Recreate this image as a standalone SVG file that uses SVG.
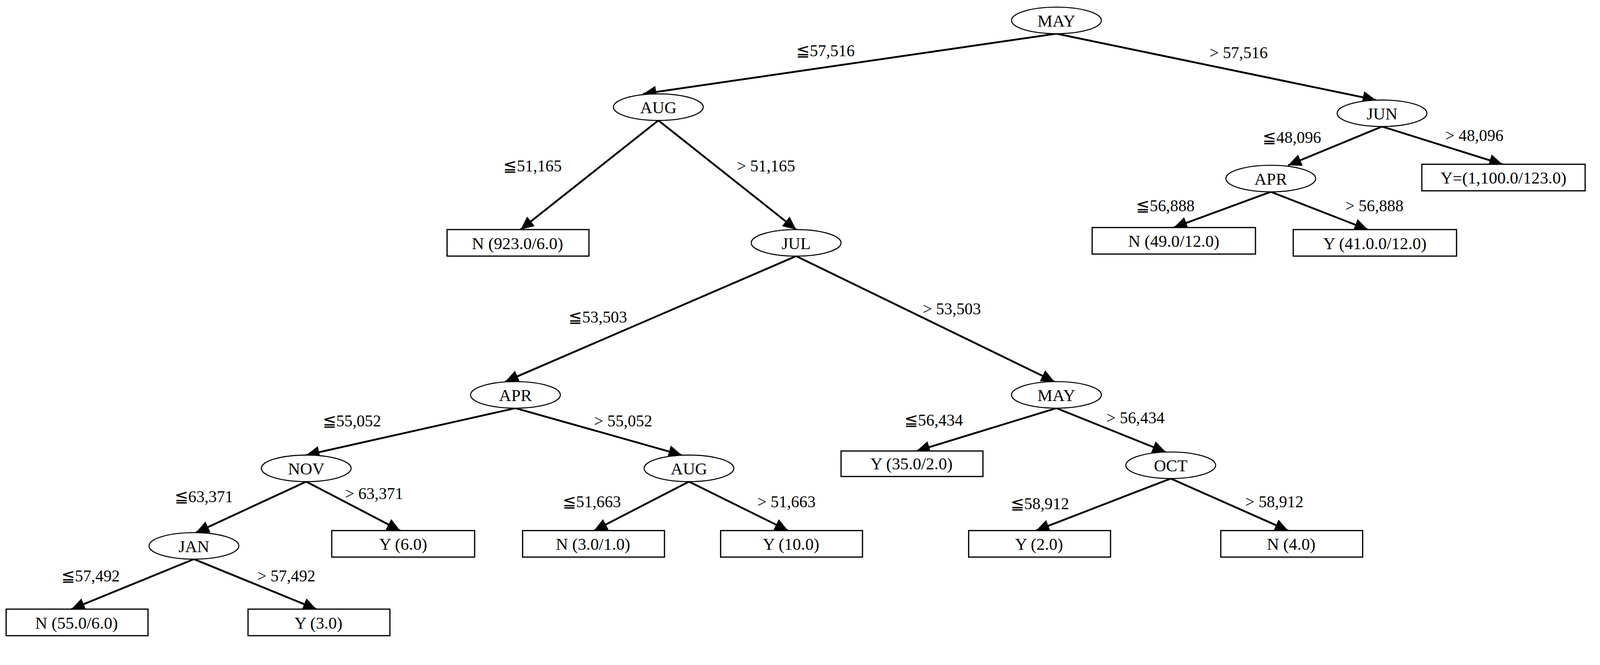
<svg xmlns="http://www.w3.org/2000/svg" width="4236" height="1703" viewBox="0 0 4236 1703">
<style>
.n ellipse{fill:#fff;stroke:#000;stroke-width:1}
.n rect{fill:#fff;stroke:#000;stroke-width:1.2}
.n text{font-family:"Liberation Serif",serif;font-size:16.5px;text-anchor:middle}
.e line{stroke:#000;stroke-width:1.8;marker-end:url(#ah)}
.l{font-family:"Liberation Serif",serif;font-size:16px}
</style>
<defs><marker id="ah" markerUnits="userSpaceOnUse" markerWidth="14" markerHeight="12" refX="13" refY="6" orient="auto"><path d="M0,0 L13,6 L0,12 Z" fill="#000"/></marker></defs>
<rect width="4236" height="1703" fill="#fff"/>
<g transform="scale(2.613)">
<g class="e" id="edges">
<line x1="1035" y1="33" x2="630" y2="92"/>
<line x1="1035" y1="33" x2="1348" y2="98"/>
<line x1="645" y1="118" x2="510" y2="225"/>
<line x1="645" y1="118" x2="780" y2="225"/>
<line x1="1354" y1="124" x2="1262" y2="162"/>
<line x1="1354" y1="124" x2="1472" y2="161"/>
<line x1="1245" y1="188" x2="1150" y2="223"/>
<line x1="1245" y1="188" x2="1340" y2="225"/>
<line x1="780" y1="251" x2="495" y2="374"/>
<line x1="780" y1="251" x2="1033" y2="374"/>
<line x1="505" y1="400" x2="300" y2="446"/>
<line x1="505" y1="400" x2="668" y2="446"/>
<line x1="1035" y1="400" x2="898" y2="442"/>
<line x1="1035" y1="400" x2="1142" y2="443"/>
<line x1="300" y1="472" x2="192" y2="522"/>
<line x1="300" y1="472" x2="392" y2="520"/>
<line x1="675" y1="472" x2="582" y2="520"/>
<line x1="675" y1="472" x2="772" y2="520"/>
<line x1="1147" y1="469" x2="1015" y2="520"/>
<line x1="1147" y1="469" x2="1262" y2="520"/>
<line x1="190" y1="548" x2="70" y2="597"/>
<line x1="190" y1="548" x2="310" y2="597"/>
</g>
<g id="labels" class="l">
<text x="780" y="55">≦57,516</text><text x="1185" y="57">&gt; 57,516</text>
<text x="493" y="168">≦51,165</text><text x="722" y="168">&gt; 51,165</text>
<text x="1237" y="140">≦48,096</text><text x="1416" y="138">&gt; 48,096</text>
<text x="1113" y="207">≦56,888</text><text x="1318" y="207">&gt; 56,888</text>
<text x="557" y="316">≦53,503</text><text x="904" y="308">&gt; 53,503</text>
<text x="316" y="418">≦55,052</text><text x="582" y="418">&gt; 55,052</text>
<text x="886" y="417">≦56,434</text><text x="1084" y="415">&gt; 56,434</text>
<text x="171" y="492">≦63,371</text><text x="338" y="489">&gt; 63,371</text>
<text x="551" y="497">≦51,663</text><text x="742" y="497">&gt; 51,663</text>
<text x="990" y="499">≦58,912</text><text x="1220" y="497">&gt; 58,912</text>
<text x="60" y="570">≦57,492</text><text x="252" y="570">&gt; 57,492</text>
</g>
<g class="n" id="n_may1"><ellipse cx="1035" cy="20" rx="44" ry="13"/><text x="1035" y="26">MAY</text></g>
<g class="n" id="n_aug1"><ellipse cx="645" cy="105" rx="44" ry="13"/><text x="645" y="111">AUG</text></g>
<g class="n" id="n_jun"><ellipse cx="1354" cy="111" rx="44" ry="13"/><text x="1354" y="117">JUN</text></g>
<g class="n" id="n_apr1"><ellipse cx="1245" cy="175" rx="44" ry="13"/><text x="1245" y="181">APR</text></g>
<g class="n" id="n_jul"><ellipse cx="780" cy="238" rx="44" ry="13"/><text x="780" y="244">JUL</text></g>
<g class="n" id="n_apr2"><ellipse cx="505" cy="387" rx="44" ry="13"/><text x="505" y="393">APR</text></g>
<g class="n" id="n_may2"><ellipse cx="1035" cy="387" rx="44" ry="13"/><text x="1035" y="393">MAY</text></g>
<g class="n" id="n_nov"><ellipse cx="300" cy="459" rx="44" ry="13"/><text x="300" y="465">NOV</text></g>
<g class="n" id="n_aug2"><ellipse cx="675" cy="459" rx="44" ry="13"/><text x="675" y="465">AUG</text></g>
<g class="n" id="n_oct"><ellipse cx="1147" cy="456" rx="44" ry="13"/><text x="1147" y="462">OCT</text></g>
<g class="n" id="n_jan"><ellipse cx="190" cy="535" rx="44" ry="13"/><text x="190" y="541">JAN</text></g>
<g class="n" id="l_n923"><rect x="438" y="225" width="139" height="26"/><text x="507" y="244">N (923.0/6.0)</text></g>
<g class="n" id="l_n49"><rect x="1070" y="223" width="160" height="26"/><text x="1150" y="242">N (49.0/12.0)</text></g>
<g class="n" id="l_y41"><rect x="1267" y="225" width="160" height="26"/><text x="1347" y="244">Y (41.0.0/12.0)</text></g>
<g class="n" id="l_y1100"><rect x="1393" y="161" width="160" height="26"/><text x="1473" y="180">Y=(1,100.0/123.0)</text></g>
<g class="n" id="l_y35"><rect x="824" y="442" width="139" height="25"/><text x="893" y="460">Y (35.0/2.0)</text></g>
<g class="n" id="l_y6"><rect x="325" y="520" width="140" height="26"/><text x="395" y="539">Y (6.0)</text></g>
<g class="n" id="l_n3"><rect x="512" y="520" width="139" height="26"/><text x="581" y="539">N (3.0/1.0)</text></g>
<g class="n" id="l_y10"><rect x="706" y="520" width="139" height="26"/><text x="775" y="539">Y (10.0)</text></g>
<g class="n" id="l_y2"><rect x="949" y="520" width="139" height="26"/><text x="1018" y="539">Y (2.0)</text></g>
<g class="n" id="l_n4"><rect x="1196" y="520" width="139" height="26"/><text x="1265" y="539">N (4.0)</text></g>
<g class="n" id="l_n55"><rect x="6" y="597" width="139" height="26"/><text x="75" y="616">N (55.0/6.0)</text></g>
<g class="n" id="l_y3"><rect x="243" y="597" width="139" height="26"/><text x="312" y="616">Y (3.0)</text></g>
</g>
</svg>
